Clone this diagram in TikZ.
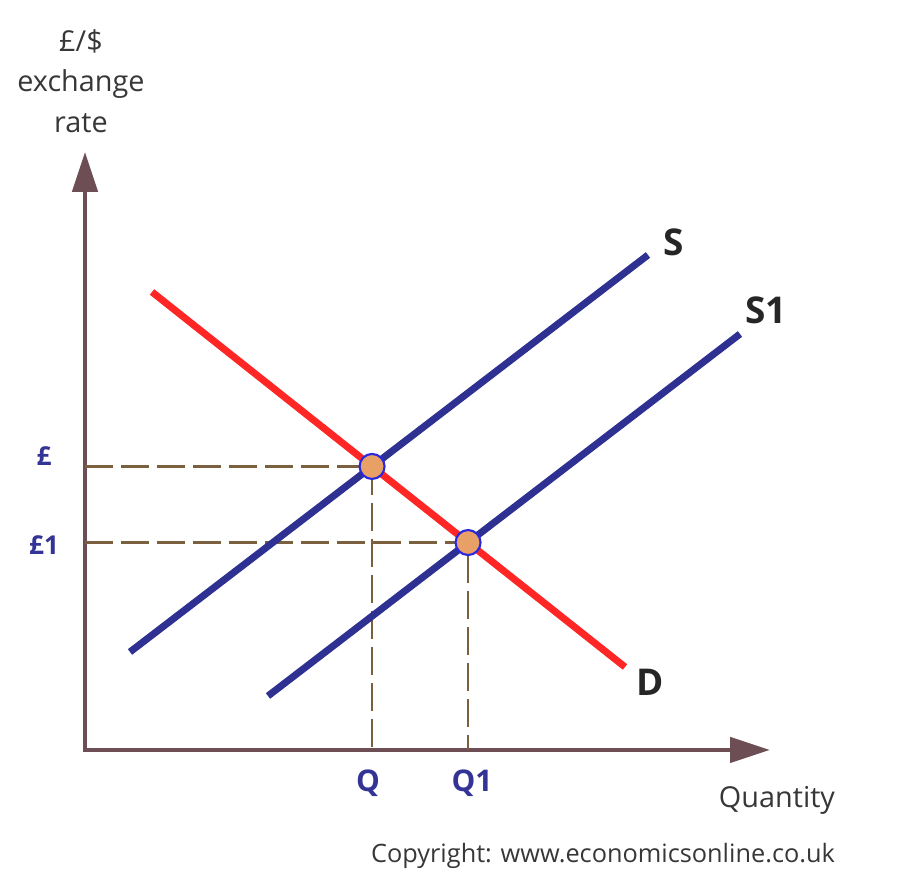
\documentclass[tikz,border=0pt]{standalone}
\usepackage{fontspec}
\setmainfont{Open Sans}
\usetikzlibrary{arrows.meta,positioning}

\definecolor{axiscol}{RGB}{108,78,84}
\definecolor{supcol}{RGB}{46,49,146}
\definecolor{demcol}{RGB}{255,38,38}
\definecolor{guidecol}{RGB}{122,96,62}
\definecolor{dotcol}{RGB}{232,160,102}
\definecolor{ringcol}{RGB}{40,40,225}
\definecolor{lblblue}{RGB}{52,52,150}
\definecolor{txtcol}{RGB}{55,55,55}

\begin{document}
\begin{tikzpicture}[
  axis/.style={draw=axiscol, line width=1.3pt,
               {Triangle[length=4mm, width=2.5mm]}-{Triangle[length=4mm, width=2.5mm]}},
  supply/.style={draw=supcol, line width=2pt},
  demand/.style={draw=demcol, line width=2pt},
  guide/.style={draw=guidecol, line width=0.8pt, dash pattern=on 2.8mm off 0.8mm},
  eqdot/.style={circle, draw=ringcol, line width=0.6pt, fill=dotcol,
                minimum size=2.5mm, inner sep=0pt},
  tick/.style={text=lblblue, font=\fontsize{8.5}{10}\selectfont\bfseries},
  curvelbl/.style={text=black!85, font=\fontsize{10.5}{12}\selectfont\bfseries},
  axlbl/.style={text=txtcol, font=\fontsize{8.2}{11.6}\selectfont, align=center}
]
\useasboundingbox (0,0) rectangle (9.17,8.96);

% --- Axes ---
\coordinate (O)    at (0.85,1.46);
\coordinate (ytop) at (0.85,7.44);
\coordinate (xend) at (7.70,1.46);
\draw[axis] (ytop) -- (O) -- (xend);

% --- Curve ends ---
\coordinate (s0) at (1.30,2.44);
\coordinate (s1) at (6.48,6.41);
\coordinate (t0) at (2.68,2.00);
\coordinate (t1) at (7.40,5.62);
\coordinate (d0) at (1.52,6.04);
\coordinate (d1) at (6.25,2.29);

\coordinate (e1) at (intersection of s0--s1 and d0--d1);
\coordinate (e2) at (intersection of t0--t1 and d0--d1);

% --- Guides ---
\draw[guide] (O |- e1) -- (e1) -- (e1 |- O);
\draw[guide] (O |- e2) -- (e2) -- (e2 |- O);

% --- Curves ---
\draw[supply] (s0) -- (s1);
\draw[supply] (t0) -- (t1);
\draw[demand] (d0) -- (d1);

\node[eqdot] (p1) at (e1) {};
\node[eqdot] (p2) at (e2) {};

% --- Labels ---
\node[curvelbl] (slbl)  at (6.74,6.54) {S};
\node[curvelbl] (s1lbl) at (7.66,5.86) {S1};
\node[curvelbl] (dlbl)  at (6.50,2.14) {D};

\node[tick, font=\fontsize{7.4}{9}\selectfont\bfseries] (plbl)  at (0.44,4.40) {£};
\node[tick, font=\fontsize{7.4}{9}\selectfont\bfseries] (p1lbl) at (0.44,3.51) {£1};
\node[tick] (qlbl)  at (3.68,1.13) {Q};
\node[tick] (q1lbl) at (4.72,1.13) {Q1};

\node[axlbl] (ylbl) at (0.81,8.15) {£/\$\\exchange\\rate};
\node[axlbl] (xlbl) at (7.77,0.96) {Quantity};
\node[axlbl, font=\fontsize{7.2}{9}\selectfont] (copy) at (6.03,0.40)
  {Copyright: www.economicsonline.co.uk};

\end{tikzpicture}
\end{document}
